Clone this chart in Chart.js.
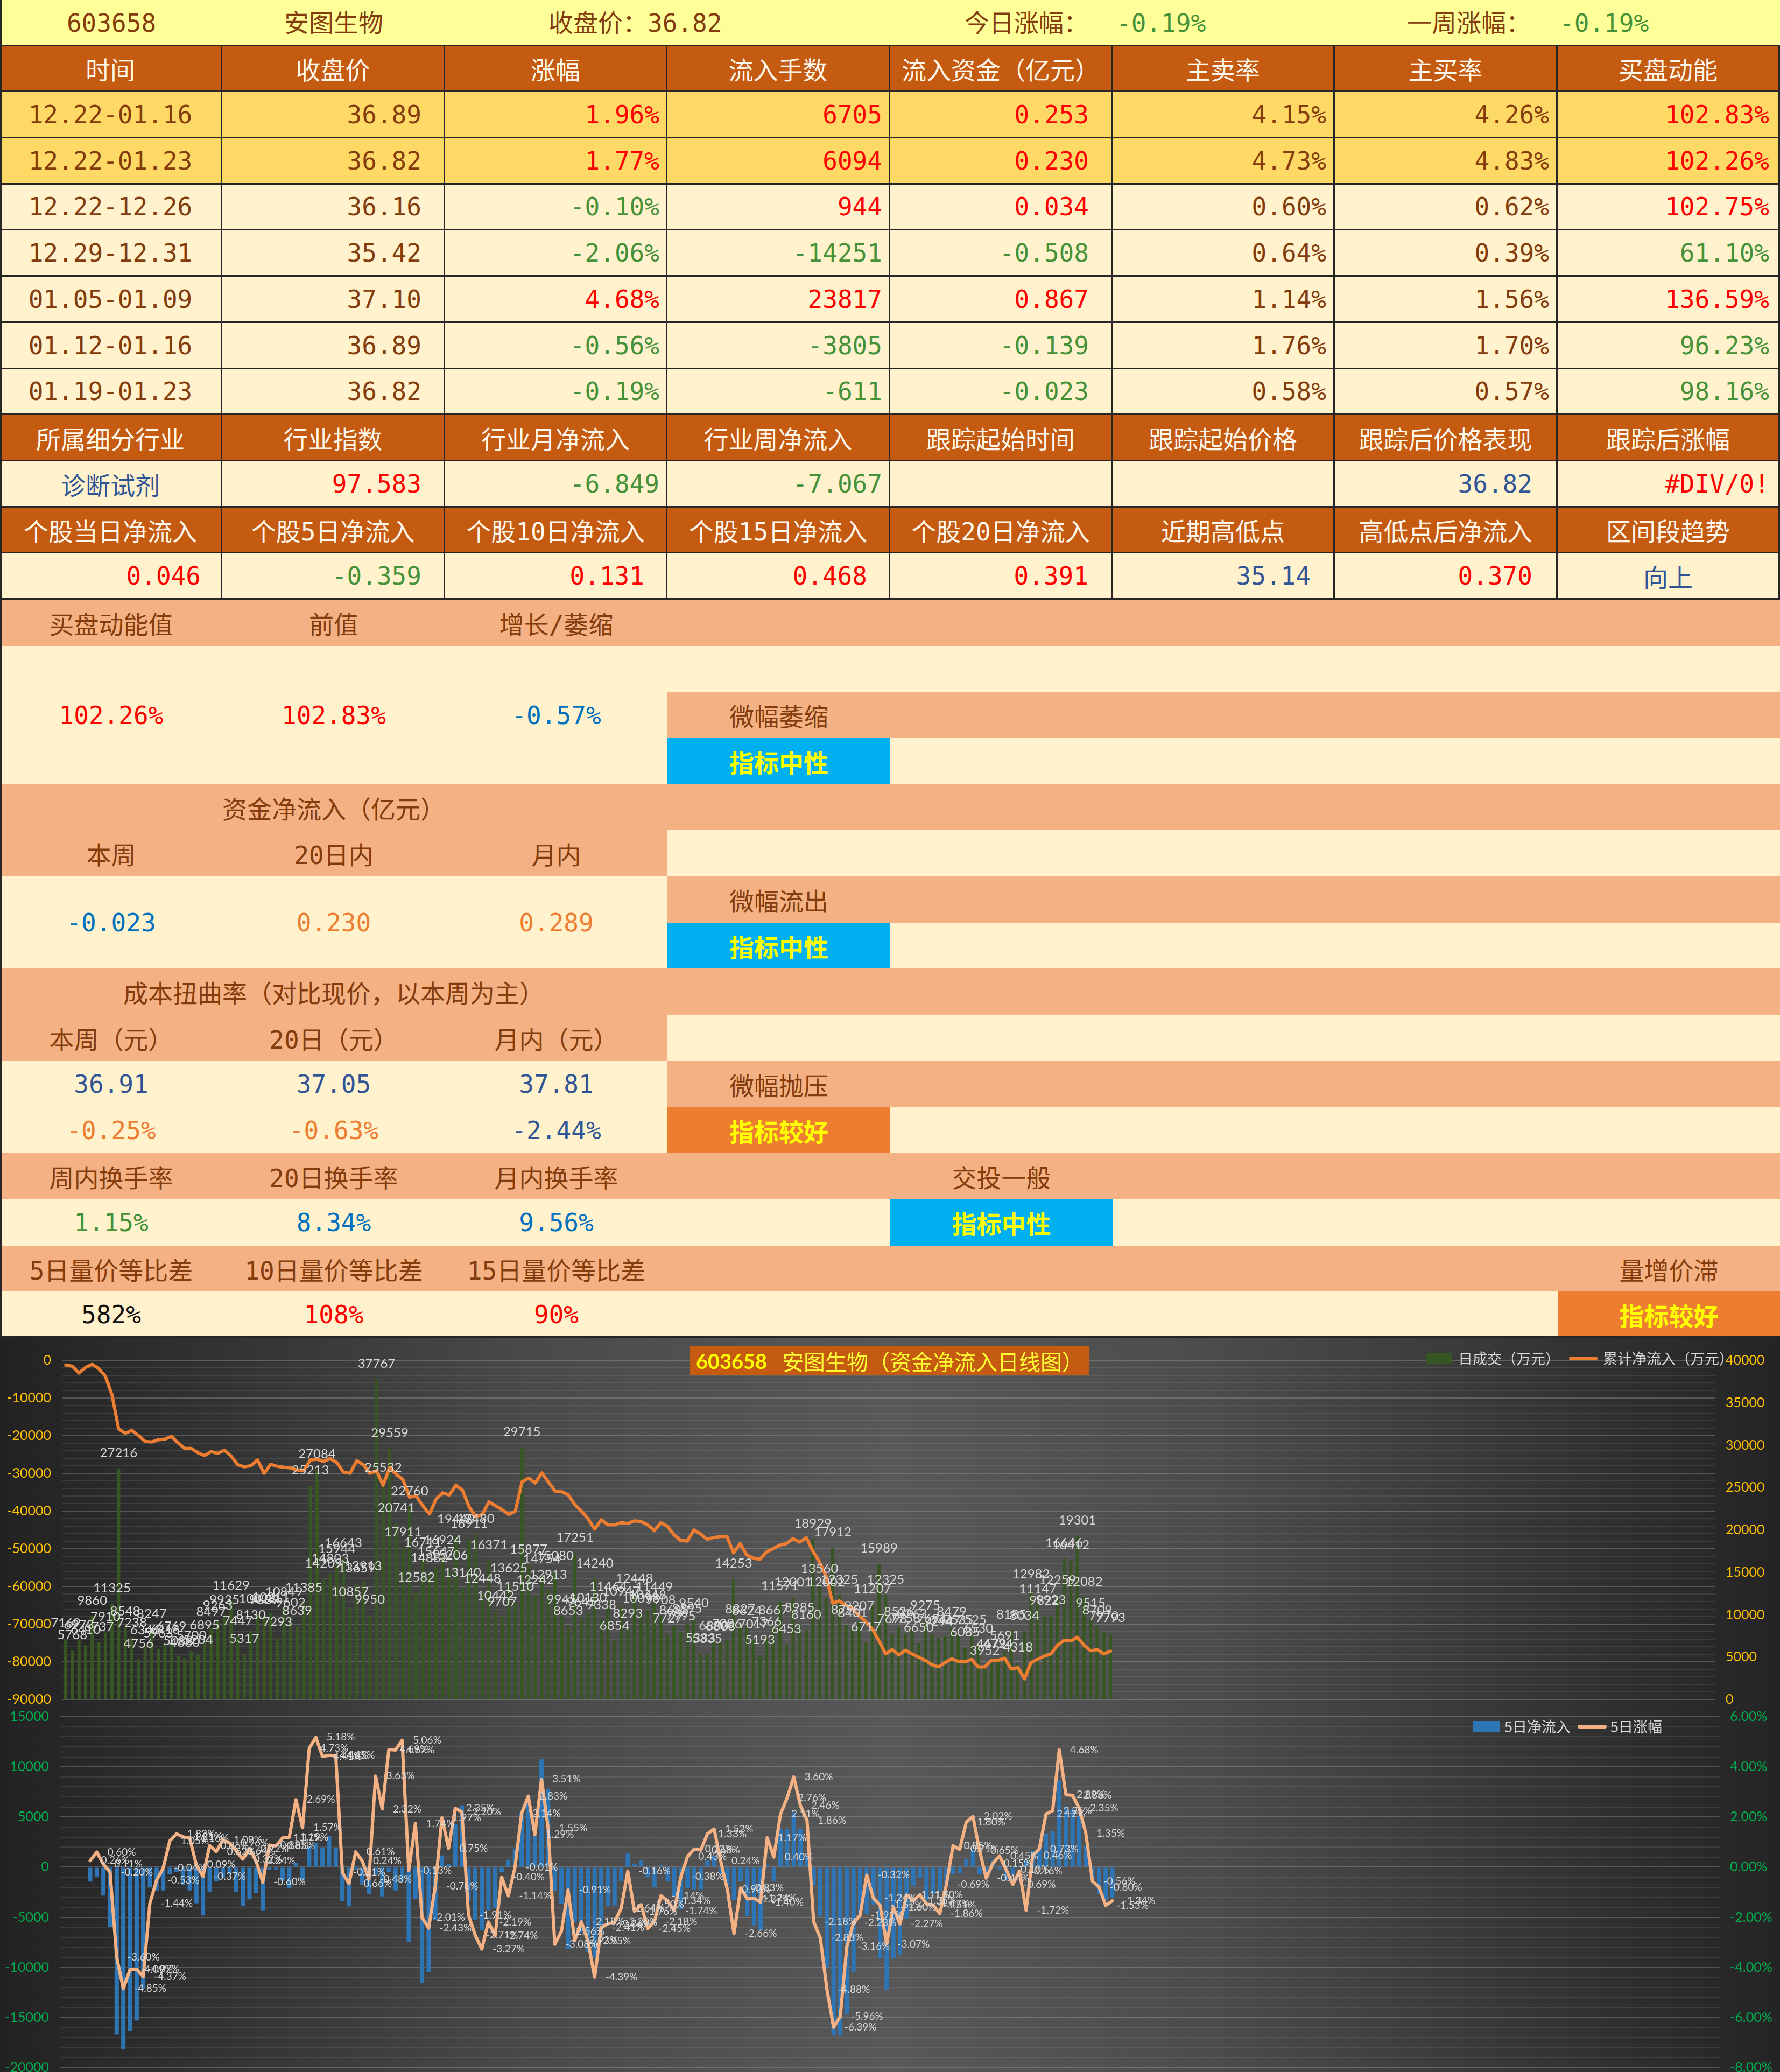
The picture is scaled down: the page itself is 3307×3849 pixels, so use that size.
<!DOCTYPE html>
<html>
<head>
<meta charset="utf-8">
<script src="https://cdn.jsdelivr.net/npm/chart.js@4.4.1/dist/chart.umd.min.js"></script>
<style>
html,body{margin:0;padding:0;background:#ffffff;overflow:hidden;}
#page{position:relative;width:3307px;height:3849px;overflow:hidden;}
.cell{position:absolute;box-sizing:border-box;overflow:hidden;white-space:nowrap;display:flex;align-items:center;
  font-family:"DejaVu Sans Mono","Noto Sans CJK SC",sans-serif;font-size:46px;}
.abs{position:absolute;white-space:nowrap;font-family:"DejaVu Sans Mono","Noto Sans CJK SC",sans-serif;font-size:46px;line-height:86px;top:0;}
.wrap{position:absolute;left:0;width:3307px;overflow:hidden;}
.ctitle{position:absolute;left:1282px;top:16px;width:742px;height:54px;background:#C55A11;display:flex;align-items:center;justify-content:center;white-space:nowrap;}
.ctitle .code{font-family:Lato,"Noto Sans CJK SC";font-weight:700;font-size:38px;color:#FFFF00;margin-right:28px;}
.ctitle .name{font-family:"Noto Sans CJK SC";font-size:40px;color:#FFFF33;}
.lg{position:absolute;white-space:nowrap;font-family:"Noto Sans CJK SC";font-size:27px;color:#D9D9D9;line-height:40px;}
.sw{position:absolute;}
</style>
</head>
<body>
<div id="page">
  <div id="table" style="position:absolute;left:0;top:0;width:3307px;height:2485px;"></div>
  <div class="wrap" style="top:2485px;height:687px;">
    <canvas id="c1" width="3307" height="687"></canvas>
    <div class="ctitle"><span class="code" id="t1code"></span><span class="name" id="t1name"></span></div>
    <div class="sw" style="left:2649px;top:28px;width:49px;height:20px;background:#375623;"></div>
    <div class="lg" id="lg1a" style="left:2709px;top:18px;"></div>
    <div class="sw" style="left:2915px;top:35px;width:53px;height:7px;background:#ED7D31;border-radius:4px;"></div>
    <div class="lg" id="lg1b" style="left:2978px;top:18px;"></div>
  </div>
  <div class="wrap" style="top:3172px;height:677px;">
    <canvas id="c2" width="3307" height="684"></canvas>
    <div class="sw" style="left:2737px;top:25px;width:49px;height:20px;background:#2E75B6;"></div>
    <div class="lg" id="lg2a" style="left:2795px;top:15px;"></div>
    <div class="sw" style="left:2931px;top:32px;width:54px;height:7px;background:#F4B183;border-radius:4px;"></div>
    <div class="lg" id="lg2b" style="left:2992px;top:15px;"></div>
  </div>
</div>
<script>
// ---------------- TABLE DATA ----------------
const stockCode = '603658';
const stockName = '安图生物';
const closeText = '收盘价：36.82';
const todayLabel = '今日涨幅：', todayChange = '-0.19%';
const weekLabel = '一周涨幅：', weekChange = '-0.19%';

const header1 = ['时间','收盘价','涨幅','流入手数','流入资金（亿元）','主卖率','主买率','买盘动能'];
const periods = ['12.22-01.16','12.22-01.23','12.22-12.26','12.29-12.31','01.05-01.09','01.12-01.16','01.19-01.23'];
const closes = ['36.89','36.82','36.16','35.42','37.10','36.89','36.82'];
const changes = ['1.96%','1.77%','-0.10%','-2.06%','4.68%','-0.56%','-0.19%'];
const lots = ['6705','6094','944','-14251','23817','-3805','-611'];
const funds = ['0.253','0.230','0.034','-0.508','0.867','-0.139','-0.023'];
const sellRates = ['4.15%','4.73%','0.60%','0.64%','1.14%','1.76%','0.58%'];
const buyRates = ['4.26%','4.83%','0.62%','0.39%','1.56%','1.70%','0.57%'];
const momentum = ['102.83%','102.26%','102.75%','61.10%','136.59%','96.23%','98.16%'];

const header2 = ['所属细分行业','行业指数','行业月净流入','行业周净流入','跟踪起始时间','跟踪起始价格','跟踪后价格表现','跟踪后涨幅'];
const industryRow = ['诊断试剂','97.583','-6.849','-7.067','','','36.82','#DIV/0!'];
const header3 = ['个股当日净流入','个股5日净流入','个股10日净流入','个股15日净流入','个股20日净流入','近期高低点','高低点后净流入','区间段趋势'];
const stockRow = ['0.046','-0.359','0.131','0.468','0.391','35.14','0.370','向上'];

const momentumHead = ['买盘动能值','前值','增长/萎缩'];
const momentumVals = ['102.26%','102.83%','-0.57%'];
const fundHead = '资金净流入（亿元）';
const fundSub = ['本周','20日内','月内'];
const fundVals = ['-0.023','0.230','0.289'];
const costHead = '成本扭曲率（对比现价，以本周为主）';
const costSub = ['本周（元）','20日（元）','月内（元）'];
const costVals = ['36.91','37.05','37.81'];
const costPct = ['-0.25%','-0.63%','-2.44%'];
const turnHead = ['周内换手率','20日换手率','月内换手率'];
const turnVals = ['1.15%','8.34%','9.56%'];
const ratioHead = ['5日量价等比差','10日量价等比差','15日量价等比差'];
const ratioVals = ['582%','108%','90%'];
const verdicts = {momentum:'微幅萎缩', fund:'微幅流出', cost:'微幅抛压', turn:'交投一般', ratio:'量增价滞'};
const signals = {momentum:'指标中性', fund:'指标中性', cost:'指标较好', turn:'指标中性', ratio:'指标较好'};

// ---------------- CHART DATA ----------------
const slotCount = 250;
const categories = Array.from({length: slotCount}, (_, i) => String(i + 1));

const dailyTurnover = [7169,5768,6973,6410,9860,6737,7910,11325,27216,8548,
7238,4756,6346,8247,5963,6416,6769,5088,4880,5700,
5204,6895,8497,9263,9935,11629,7447,5317,8130,10028,
9889,10211,7293,10849,9602,8639,11385,25213,27084,14209,
14803,15944,16643,10857,13659,13913,9950,37767,25532,29559,
20741,17911,22760,12582,16711,14882,15647,16924,15206,19440,
13140,18911,19480,12448,16371,10442,9707,13625,11510,29715,
15877,12242,14754,12913,15080,9945,8653,17251,9645,10130,
14240,9338,11464,6854,10947,8293,12448,10098,10448,11449,
9908,7727,8688,7995,8895,9540,5383,5335,6880,6808,
7086,14253,8827,8624,7017,5193,7366,8667,11571,6453,
12001,8985,8160,18929,13560,12002,17912,12325,8790,8401,
9207,6717,11207,15989,12325,7698,8526,7758,8263,6650,
9275,7694,7294,7447,8479,7535,6085,7525,6530,3952,
4679,4724,5691,8185,4318,8034,12982,11147,9822,9923,
12259,16646,16412,19301,12082,9515,8709,7970,7793];

const cumNetInflow = [-1258,-1577,-3363,-1896,-1067,-2215,-4256,-9204,-18216,-19364,
-18618,-19939,-21545,-21660,-21086,-20914,-20225,-21947,-23382,-23382,
-24530,-25276,-24243,-24702,-23841,-25391,-27687,-28261,-27974,-26424,
-29983,-27572,-28146,-28376,-28548,-29122,-29237,-26424,-26252,-26826,
-26080,-27113,-29696,-29983,-26654,-27687,-29983,-29294,-33140,-28376,
-30270,-31705,-36297,-36010,-38593,-40774,-36871,-35149,-35723,-33140,
-34460,-38880,-41463,-40889,-37560,-38593,-39626,-40889,-40028,-32279,
-31246,-32566,-29868,-32279,-34690,-34862,-35723,-38306,-40028,-42037,
-44792,-42324,-43644,-43644,-43070,-43300,-42611,-42783,-43644,-45194,
-43070,-44046,-46342,-47777,-47949,-45022,-46055,-47490,-47031,-46744,
-46744,-51106,-48638,-51680,-52484,-52828,-50819,-49958,-49040,-48638,
-47317,-48236,-47031,-50647,-53517,-57248,-64423,-63849,-64997,-65858,
-67867,-69302,-71311,-74468,-77912,-76764,-78199,-76936,-77912,-78773,
-79634,-80782,-81356,-80208,-79232,-79921,-80036,-79347,-81356,-81356,
-79634,-79634,-79060,-81930,-81528,-84513,-80208,-79347,-78486,-77912,
-75616,-74296,-74468,-73492,-75616,-77051,-76764,-77912,-77166];

const net5Day = [null,null,null,null,-1442,-930,-2838,-5931,-16701,-18143,
-16329,-15305,-12100,-1977,-2326,-2326,-700,-465,-1745,-2326,
-3605,-4815,-2442,-1396,-1047,-700,-2442,-3884,-3210,-2560,
-4303,-233,-233,-1349,-2093,420,-1349,2093,2442,1977,
3140,1930,-3373,-3908,-233,-1628,-2675,-700,-2908,-512,
-2326,-1400,-7443,-3210,-11514,-10467,-5234,1163,279,4303,
6164,-3373,-5234,-6280,-4303,-4071,-465,744,1861,5466,
7025,3140,10746,7792,-2373,-3675,-8188,-5466,-6500,-8500,
-9000,-6500,-3838,-3838,-1396,1349,349,698,-1000,-1977,
233,-1396,-2908,-4187,-2093,-2210,-2210,698,1163,-700,
-1861,-3256,-1396,-4885,-5815,-6280,233,-1396,3838,3838,
5466,3838,1163,-1815,-4885,-10002,-16747,-16794,-14700,-10467,
-4699,-4699,-3722,-9072,-12212,-9118,-8723,-5117,-1861,-1047,
-3256,-2675,-2326,-1861,-698,-582,814,1744,-698,-1047,
698,-233,-1279,-698,120,698,1628,1919,3373,3605,
8653,6048,5815,5117,2093,-1163,-2675,-3256,-3024];

const change5Day = [null,null,null,null,0.26,0.60,0.11,-0.20,-3.60,-4.85,
-4.09,-4.07,-4.37,-1.44,-0.53,-0.04,1.05,1.33,1.21,1.16,
0.09,-0.37,0.86,0.62,1.09,0.96,0.64,0.32,0.72,0.24,
-0.60,0.88,0.85,1.17,1.19,2.69,1.57,4.73,5.18,4.41,
4.46,4.45,-0.21,-0.66,0.61,0.24,-0.48,3.63,2.32,4.69,
4.67,5.06,-0.13,1.74,-2.01,-2.43,-0.76,1.97,0.75,2.35,
2.20,-1.91,-2.71,-3.27,-2.19,-2.74,-0.40,-1.14,-0.01,2.14,
2.83,1.29,3.51,1.55,-3.08,-2.56,-0.91,-2.93,-2.18,-2.95,
-4.39,-2.41,-2.26,-2.20,-1.64,-0.16,-1.76,-1.50,-2.45,-2.18,
-1.14,-1.34,-1.74,-0.38,0.43,0.72,0.68,1.33,1.52,0.24,
-0.90,-2.66,-0.83,-1.27,-1.24,-1.40,1.17,0.40,2.11,2.76,
3.60,2.46,1.86,-2.18,-2.83,-4.88,-6.39,-5.96,-3.16,-2.23,
-1.91,-0.32,-1.24,-1.52,-3.07,-1.60,-2.27,-1.11,-1.35,-1.10,
-1.47,-1.51,-1.86,-0.69,0.85,0.71,1.80,2.02,0.65,-0.44,
0.15,0.45,-0.10,-0.69,-0.16,-1.72,0.46,0.73,2.12,2.25,
4.68,2.89,2.86,2.35,1.35,-0.56,-0.80,-1.53,-1.34];

const chartTitleCode = '603658';
const chartTitleName = '安图生物（资金净流入日线图）';
const legend1 = ['日成交（万元）','累计净流入（万元）'];
const legend2 = ['5日净流入','5日涨幅'];

// ---------------- TABLE BUILD ----------------
const BROWN='#843C0C', RED='#FF0000', GREEN='#46923A', BLUE='#2F5597', BLUE2='#0070C0', ORANGE='#ED7D31', WHITE='#FFF8EC', BLACK='#111111', YEL='#FFFF00';
const C_TITLE='#FFFF99', C_HEAD='#C55A11', C_GOLD='#FFD966', C_CREAM='#FFF2CC', C_SALMON='#F4B183', C_CYAN='#00B0F0', C_ORG='#ED7D31';
const NC=8, NR=29, TW=3307, TH=2485;
const cw=TW/NC, rh=TH/NR;
const tbl=document.getElementById('table');
function put(r,c,span,rs,o){
  const d=document.createElement('div');
  d.className='cell';
  const x0=Math.round(c*cw), x1=Math.round((c+span)*cw);
  const y0=Math.round(r*rh), y1=Math.round((r+rs)*rh);
  d.style.left=x0+'px'; d.style.top=y0+'px'; d.style.width=(x1-x0)+'px'; d.style.height=(y1-y0)+'px';
  if(o.bg) d.style.background=o.bg;
  if(o.border){ d.style.borderRight='3px solid #262626'; d.style.borderBottom='3px solid #262626'; }
  d.style.justifyContent = o.align==='right' ? 'flex-end' : 'center';
  if(o.align==='right') d.style.paddingRight=(o.pad||12)+'px';
  if(o.text){
    const s=document.createElement('span');
    s.textContent=o.text; s.style.color=o.color||BROWN;
    if(o.bold) s.style.fontWeight='700';
    d.appendChild(s);
  }
  tbl.appendChild(d);
}
const signColor = s => s.trim().startsWith('-') ? GREEN : RED;

// row 0 title
put(0,0,8,1,{bg:C_TITLE});
(function(){
  const titleRow=document.createElement('div');
  titleRow.style.cssText='position:absolute;left:0;top:0;width:3307px;height:86px;';
  const items=[
    {t:stockCode,x:207,center:true,c:BROWN},
    {t:stockName,x:620,center:true,c:BROWN},
    {t:closeText,x:1019,c:BROWN},
    {t:todayLabel,x:1792,c:BROWN},{t:todayChange,x:2074,c:GREEN},
    {t:weekLabel,x:2614,c:BROWN},{t:weekChange,x:2897,c:GREEN}
  ];
  items.forEach(it=>{
    const s=document.createElement('span'); s.className='abs'; s.textContent=it.t; s.style.color=it.c;
    s.style.left=it.x+'px'; if(it.center) s.style.transform='translateX(-50%)';
    titleRow.appendChild(s);
  });
  tbl.appendChild(titleRow);
  const bb=document.createElement('div'); bb.style.cssText='position:absolute;left:0;top:83px;width:3307px;height:4px;background:#262626;';
  tbl.appendChild(bb);
})();
// row 1 header
header1.forEach((t,c)=>put(1,c,1,1,{bg:C_HEAD,text:t,color:WHITE,border:true}));
// rows 2-8
const padW=[0,41,12,12,41,13,13,17];
for(let k=0;k<periods.length;k++){
  const r=2+k, bg = k<2 ? C_GOLD : C_CREAM;
  put(r,0,1,1,{bg,text:periods[k],color:BROWN,border:true});
  put(r,1,1,1,{bg,text:closes[k],color:BROWN,align:'right',pad:padW[1],border:true});
  put(r,2,1,1,{bg,text:changes[k],color:signColor(changes[k]),align:'right',pad:padW[2],border:true});
  put(r,3,1,1,{bg,text:lots[k],color:signColor(lots[k]),align:'right',pad:padW[3],border:true});
  put(r,4,1,1,{bg,text:funds[k],color:signColor(funds[k]),align:'right',pad:padW[4],border:true});
  put(r,5,1,1,{bg,text:sellRates[k],color:BROWN,align:'right',pad:padW[5],border:true});
  put(r,6,1,1,{bg,text:buyRates[k],color:BROWN,align:'right',pad:padW[6],border:true});
  put(r,7,1,1,{bg,text:momentum[k],color:parseFloat(momentum[k])>=100?RED:GREEN,align:'right',pad:padW[7],border:true});
}
// row 9/10
header2.forEach((t,c)=>put(9,c,1,1,{bg:C_HEAD,text:t,color:WHITE,border:true}));
const indSpec=[{a:'center',c:BLUE},{p:41,c:RED},{p:12,c:GREEN},{p:12,c:GREEN},{p:12},{p:12},{p:44,c:BLUE},{p:17,c:RED}];
industryRow.forEach((t,c)=>{const s=indSpec[c]; put(10,c,1,1,{bg:C_CREAM,text:t,color:s.c,align:s.a||'right',pad:s.p,border:true});});
// row 11/12
header3.forEach((t,c)=>put(11,c,1,1,{bg:C_HEAD,text:t,color:WHITE,border:true}));
const stSpec=[{p:37,c:RED},{p:41,c:GREEN},{p:40,c:RED},{p:40,c:RED},{p:42,c:RED},{p:42,c:BLUE},{p:44,c:RED},{a:'center',c:BLUE}];
stockRow.forEach((t,c)=>{const s=stSpec[c]; put(12,c,1,1,{bg:C_CREAM,text:t,color:s.c,align:s.a||'right',pad:s.p,border:true});});

// section 2
put(13,0,8,1,{bg:C_SALMON});
momentumHead.forEach((t,c)=>put(13,c,1,1,{text:t}));
put(14,0,3,3,{bg:C_CREAM});
momentumVals.forEach((t,c)=>put(14,c,1,3,{text:t,color:[RED,RED,BLUE2][c]}));
put(14,3,5,1,{bg:C_CREAM});
put(15,3,5,1,{bg:C_SALMON}); put(15,3,1,1,{text:verdicts.momentum});
put(16,4,4,1,{bg:C_CREAM}); put(16,3,1,1,{bg:C_CYAN,text:signals.momentum,color:YEL,bold:true});

put(17,0,8,1,{bg:C_SALMON}); put(17,0,3,1,{text:fundHead});
put(18,0,3,1,{bg:C_SALMON}); put(18,3,5,1,{bg:C_CREAM});
fundSub.forEach((t,c)=>put(18,c,1,1,{text:t}));
put(19,0,3,2,{bg:C_CREAM});
fundVals.forEach((t,c)=>put(19,c,1,2,{text:t,color:[BLUE2,ORANGE,ORANGE][c]}));
put(19,3,5,1,{bg:C_SALMON}); put(19,3,1,1,{text:verdicts.fund});
put(20,4,4,1,{bg:C_CREAM}); put(20,3,1,1,{bg:C_CYAN,text:signals.fund,color:YEL,bold:true});

put(21,0,8,1,{bg:C_SALMON}); put(21,0,3,1,{text:costHead});
put(22,0,3,1,{bg:C_SALMON}); put(22,3,5,1,{bg:C_CREAM});
costSub.forEach((t,c)=>put(22,c,1,1,{text:t}));
put(23,0,3,2,{bg:C_CREAM});
costVals.forEach((t,c)=>put(23,c,1,1,{text:t,color:BLUE}));
costPct.forEach((t,c)=>put(24,c,1,1,{text:t,color:[ORANGE,ORANGE,BLUE][c]}));
put(23,3,5,1,{bg:C_SALMON}); put(23,3,1,1,{text:verdicts.cost});
put(24,4,4,1,{bg:C_CREAM}); put(24,3,1,1,{bg:C_ORG,text:signals.cost,color:YEL,bold:true});

put(25,0,8,1,{bg:C_SALMON});
turnHead.forEach((t,c)=>put(25,c,1,1,{text:t}));
put(25,4,1,1,{text:verdicts.turn});
put(26,0,8,1,{bg:C_CREAM});
turnVals.forEach((t,c)=>put(26,c,1,1,{text:t,color:[GREEN,BLUE2,BLUE2][c]}));
put(26,4,1,1,{bg:C_CYAN,text:signals.turn,color:YEL,bold:true});

put(27,0,8,1,{bg:C_SALMON});
ratioHead.forEach((t,c)=>put(27,c,1,1,{text:t}));
put(27,7,1,1,{text:verdicts.ratio});
put(28,0,8,1,{bg:C_CREAM});
ratioVals.forEach((t,c)=>put(28,c,1,1,{text:t,color:[BLACK,RED,RED][c]}));
put(28,7,1,1,{bg:C_ORG,text:signals.ratio,color:YEL,bold:true});
(function(){
  const lb=document.createElement('div'); lb.style.cssText='position:absolute;left:0;top:0;width:3px;height:2485px;background:#262626;';
  tbl.appendChild(lb);
  const bt=document.createElement('div'); bt.style.cssText='position:absolute;left:0;top:2481px;width:3307px;height:4px;background:#262626;';
  tbl.appendChild(bt);
})();

// ---------------- CHARTS ----------------
document.getElementById('t1code').textContent=chartTitleCode;
document.getElementById('t1name').textContent=chartTitleName;
document.getElementById('lg1a').textContent=legend1[0];
document.getElementById('lg1b').textContent=legend1[1];
document.getElementById('lg2a').textContent=legend2[0];
document.getElementById('lg2b').textContent=legend2[1];

Chart.defaults.font.family='Lato';
const MAJOR='rgba(190,190,190,0.30)', MINOR='rgba(190,190,190,0.13)';

const bgPlugin={id:'bgGrad',beforeDraw(chart){
  const {ctx,width,height}=chart;
  const g=ctx.createLinearGradient(0,0,width,0);
  g.addColorStop(0,'#222222'); g.addColorStop(0.3,'#4a4a4a'); g.addColorStop(0.5,'#585858');
  g.addColorStop(0.68,'#4c4c4c'); g.addColorStop(1,'#242424');
  ctx.save(); ctx.fillStyle=g; ctx.fillRect(0,0,width,height); ctx.restore();
}};
const valueLabels={id:'valueLabels',afterDatasetsDraw(chart,args,o){
  if(o.dataset===undefined) return;
  const ds=chart.data.datasets[o.dataset];
  const meta=chart.getDatasetMeta(o.dataset);
  const ctx=chart.ctx;
  ctx.save(); ctx.font=o.font; ctx.fillStyle=o.color;
  meta.data.forEach((el,i)=>{
    const v=ds.data[i];
    if(v===null||v===undefined) return;
    const p=el.getProps(['x','y'],true);
    if(o.mode==='top'){ctx.textAlign='center';ctx.textBaseline='alphabetic';ctx.fillText(String(v),p.x,p.y-o.offset);}
    else{ctx.textAlign='left';ctx.textBaseline='middle';ctx.fillText(v.toFixed(2)+'%',p.x+o.offset,p.y);}
  });
  ctx.restore();
}};

function gridColor(step){return c=>(c.tick && Math.abs(c.tick.value % step) < 1e-6) ? MAJOR : MINOR;}
function fixAxis(w){return s=>{s.width=w; s.paddingTop=0; s.paddingBottom=0;};}

new Chart(document.getElementById('c1'),{
  type:'bar',
  data:{labels:categories,datasets:[
    {type:'line',label:legend1[1],data:cumNetInflow,yAxisID:'yL',borderColor:'#ED7D31',borderWidth:6,pointRadius:0,tension:0,
     borderJoinStyle:'round',borderCapStyle:'round',order:0},
    {type:'bar',label:legend1[0],data:dailyTurnover,yAxisID:'yR',backgroundColor:'#375623',barPercentage:0.5,categoryPercentage:1,order:1}
  ]},
  options:{
    responsive:false,animation:false,devicePixelRatio:1,
    layout:{padding:{top:42,bottom:15,left:0,right:0}},
    plugins:{legend:{display:false},tooltip:{enabled:false},title:{display:false},
      valueLabels:{dataset:1,mode:'top',offset:21,font:'24px Lato',color:'#D9D9D9'}},
    scales:{
      x:{type:'category',display:false,offset:true,grid:{display:false}},
      yL:{type:'linear',position:'left',min:-90000,max:0,
        afterFit:fixAxis(116),
        border:{display:false},
        grid:{color:gridColor(10000),lineWidth:2,drawTicks:false},
        ticks:{stepSize:2000,autoSkip:false,padding:21,color:'#FFC000',font:{size:25,family:'Lato'},
          callback:v=>(Math.abs(v%10000)<1e-6?String(v):'')}},
      yR:{type:'linear',position:'right',min:0,max:40000,
        afterFit:fixAxis(120),
        border:{display:false},grid:{display:false,drawTicks:false},
        ticks:{stepSize:5000,autoSkip:false,padding:19,color:'#FFC000',font:{size:25,family:'Lato'},callback:v=>String(v)}}
    }
  },
  plugins:[bgPlugin,valueLabels]
});

new Chart(document.getElementById('c2'),{
  type:'bar',
  data:{labels:categories,datasets:[
    {type:'line',label:legend2[1],data:change5Day,yAxisID:'yR',borderColor:'#F4B183',borderWidth:6,pointRadius:0,tension:0,
     borderJoinStyle:'round',borderCapStyle:'round',order:0},
    {type:'bar',label:legend2[0],data:net5Day,yAxisID:'yL',backgroundColor:'#2E75B6',barPercentage:0.65,categoryPercentage:1,order:1}
  ]},
  options:{
    responsive:false,animation:false,devicePixelRatio:1,
    layout:{padding:{top:17,bottom:15,left:0,right:0}},
    plugins:{legend:{display:false},tooltip:{enabled:false},title:{display:false},
      valueLabels:{dataset:0,mode:'right',offset:20,font:'19px Lato',color:'#D9D9D9'}},
    scales:{
      x:{type:'category',display:false,offset:true,grid:{display:false}},
      yL:{type:'linear',position:'left',min:-20000,max:15000,
        afterFit:fixAxis(112),
        border:{display:false},
        grid:{color:gridColor(5000),lineWidth:2,drawTicks:false},
        ticks:{stepSize:1000,autoSkip:false,padding:21,color:'#00B050',font:{size:25,family:'Lato'},
          callback:v=>(Math.abs(v%5000)<1e-6?String(v):'')}},
      yR:{type:'linear',position:'right',min:-8,max:6,
        afterFit:fixAxis(112),
        border:{display:false},grid:{display:false,drawTicks:false},
        ticks:{stepSize:2,autoSkip:false,padding:19,color:'#00B050',font:{size:25,family:'Lato'},callback:v=>v.toFixed(2)+'%'}}
    }
  },
  plugins:[bgPlugin,valueLabels]
});
</script>
</body>
</html>
